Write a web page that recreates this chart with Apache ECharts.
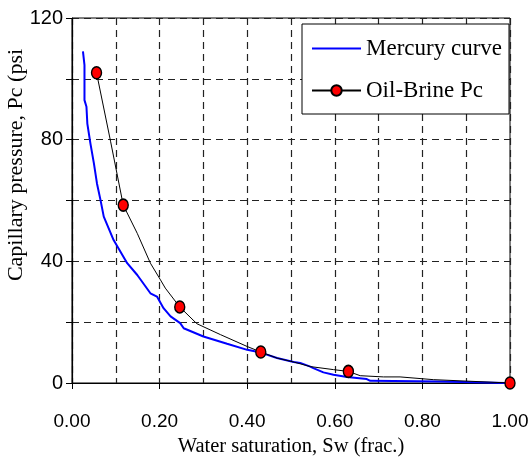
<!DOCTYPE html>
<html>
<head>
<meta charset="utf-8">
<script src="https://cdn.jsdelivr.net/npm/echarts@6/dist/echarts.min.js"></script>
<style>
  html, body { margin: 0; padding: 0; background: #fff; }
  #chart { width: 532px; height: 464px; }
</style>
</head>
<body>
<div id="chart"></div>
<script>
// Mercury injection curve (Sw fraction, Pc psi)
const mercurySw = [0.025, 0.0285, 0.0285, 0.033, 0.035, 0.042, 0.05, 0.057, 0.065, 0.0725,
  0.095, 0.126, 0.149, 0.179, 0.194, 0.209, 0.225, 0.247, 0.255, 0.3, 0.354, 0.4, 0.431,
  0.468, 0.506, 0.521, 0.544, 0.551, 0.574, 0.597, 0.628, 0.673, 0.681, 0.84, 0.844, 0.99];
const mercuryPc = [109, 104.5, 93, 90.8, 85.3, 78.8, 72.2, 65.6, 60.2, 54.7,
  47.0, 39.4, 35.5, 29.5, 28.4, 24.6, 21.9, 19.7, 18.0, 15.3, 12.9, 10.9, 10.0,
  8.2, 6.9, 6.6, 5.4, 4.9, 3.5, 2.7, 2.0, 1.3, 0.7, 0.5, 0.0, 0.0];

// Measured oil-brine capillary pressure points
const brineSw = [0.056, 0.117, 0.246, 0.431, 0.631, 1.0];
const brinePc = [102, 58.5, 25, 10.2, 3.8, 0];

// Fitted oil-brine trend line
const brineFitSw = [0.056, 0.088, 0.117, 0.149, 0.179, 0.202, 0.213, 0.246, 0.285, 0.339,
  0.4, 0.431, 0.468, 0.506, 0.544, 0.597, 0.631, 0.658, 0.711, 0.749, 0.825, 1.0];
const brineFitPc = [102, 79.5, 58.5, 49.2, 39.4, 33.9, 31.2, 25, 19.5, 15.9,
  12, 10.2, 8.2, 6.9, 5.4, 4.4, 3.8, 2.4, 2.0, 2.0, 1.1, 0];

// Axis ticks
const xTicks = { min: 0, max: 1, step: 0.2 };
const yTicks = { min: 0, max: 120, step: 40 };

const zip = (xs, ys) => xs.map((x, i) => [x, ys[i]]);

const gridDash = { color: '#222', width: 1.2, type: [7, 5] };

const chart = echarts.init(document.getElementById('chart'));
chart.setOption({
  animation: false,
  backgroundColor: '#fff',
  grid: {
    left: 72, right: 22, top: 18, bottom: 81,
    show: true, borderColor: '#000', borderWidth: 1, backgroundColor: 'transparent'
  },
  xAxis: {
    type: 'value',
    min: xTicks.min, max: xTicks.max, interval: xTicks.step,
    name: 'Water saturation, Sw (frac.)',
    nameLocation: 'middle', nameGap: 52,
    nameTextStyle: { fontFamily: 'Liberation Serif', fontSize: 20.5, color: '#000' },
    axisLine: { lineStyle: { color: '#000', width: 1.2 } },
    axisTick: { show: true, length: 6, lineStyle: { color: '#000' } },
    minorTick: { show: false, splitNumber: 2 },
    axisLabel: {
      formatter: v => v.toFixed(2), margin: 29,
      fontFamily: 'Liberation Sans', fontSize: 19, color: '#000'
    },
    splitLine: { show: true, lineStyle: gridDash },
    minorSplitLine: { show: true, lineStyle: gridDash }
  },
  yAxis: {
    type: 'value',
    min: yTicks.min, max: yTicks.max, interval: yTicks.step,
    axisLine: { show: true, lineStyle: { color: '#000', width: 1.2 } },
    axisTick: { show: true, length: 6, lineStyle: { color: '#000' } },
    minorTick: { show: true, splitNumber: 2, length: 6, lineStyle: { color: '#000' } },
    axisLabel: {
      margin: 9, fontFamily: 'Liberation Sans', fontSize: 20, color: '#000'
    },
    splitLine: { show: true, lineStyle: gridDash },
    minorSplitLine: { show: true, lineStyle: gridDash }
  },
  graphic: [{
    type: 'text',
    x: 16, y: 165, rotation: Math.PI / 2,
    style: {
      text: 'Capillary pressure, Pc (psi',
      font: '22px "Liberation Serif"', fill: '#000',
      textAlign: 'center', textVerticalAlign: 'middle'
    }
  }],
  legend: {
    orient: 'vertical', left: 302, top: 24,
    data: [
      { name: 'Mercury curve', itemStyle: { color: 'rgba(0,0,0,0)', borderColor: 'rgba(0,0,0,0)', borderWidth: 0 } },
      { name: 'Oil-Brine Pc' }
    ],
    itemWidth: 49, itemHeight: 13, itemGap: 19,
    padding: [13, 7, 12, 9],
    backgroundColor: '#fff', borderColor: '#000', borderWidth: 1,
    textStyle: { fontFamily: 'Liberation Serif', fontSize: 23, color: '#000' }
  },
  series: [
    {
      name: 'Mercury curve', type: 'line',
      data: zip(mercurySw, mercuryPc),
      showSymbol: false, symbol: 'none',
      lineStyle: { color: '#0000ff', width: 2 },
      itemStyle: { color: '#0000ff' },
      z: 3
    },
    {
      name: 'Oil-Brine Pc', type: 'line',
      data: zip(brineFitSw, brineFitPc),
      showSymbol: false, symbol: 'circle',
      lineStyle: { color: '#000', width: 1 },
      itemStyle: { color: '#ff0000', borderColor: '#000', borderWidth: 1.5 },
      z: 4
    },
    {
      name: 'Oil-Brine points', type: 'scatter',
      data: zip(brineSw, brinePc),
      symbol: 'circle', symbolSize: [10, 12],
      itemStyle: { color: '#ff0000', borderColor: '#000', borderWidth: 1.5, opacity: 1 },
      z: 5
    }
  ]
});
</script>
</body>
</html>
